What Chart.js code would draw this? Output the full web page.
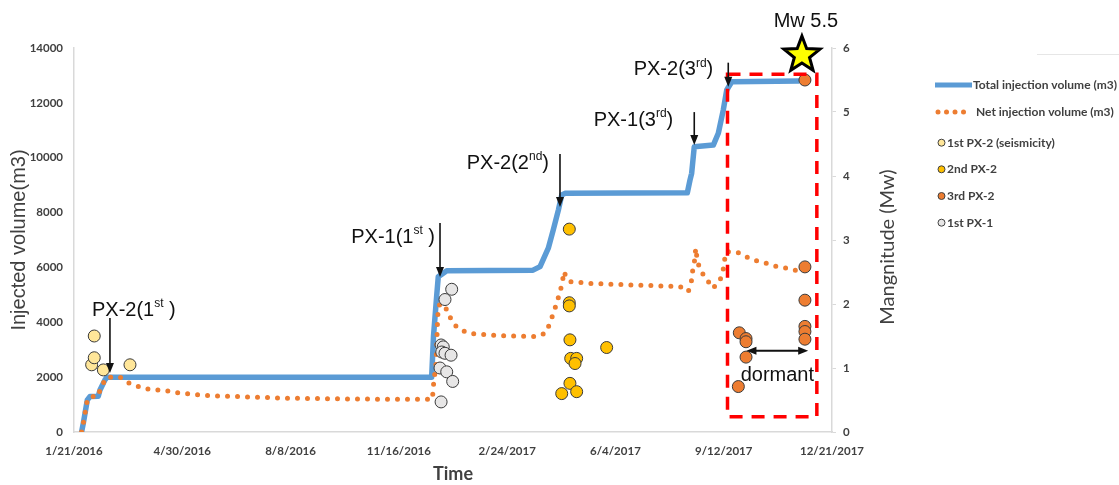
<!DOCTYPE html>
<html>
<head>
<meta charset="utf-8">
<script src="https://cdn.jsdelivr.net/npm/chart.js@4.4.0/dist/chart.umd.min.js"></script>
<style>
  html, body { margin: 0; padding: 0; background: #fff; }
  #wrap { position: relative; width: 1119px; height: 485px; }
  canvas { position: absolute; left: 0; top: 0; }
</style>
</head>
<body>
<div id="wrap"><canvas id="c" width="1119" height="485"></canvas></div>
<script>
// Time is counted in days from 1/21/2016; axis ticks every 100 days.
const tickLabels = ['1/21/2016', '4/30/2016', '8/8/2016', '11/16/2016', '2/24/2017', '6/4/2017', '9/12/2017', '12/21/2017'];

// Cumulative total injection volume (m3)
const totalDays = [7, 8.6, 10.2, 12.3, 14.8, 22.4, 24, 28.6, 30.5, 330.3, 332, 335, 336.4, 344.2, 423.9, 430.4, 438, 442.6, 447.3, 450.4, 453.4, 566.4, 568.9, 570.4, 572.8, 590.4, 595, 599.6, 602.8, 607.4, 669.8];
const totalVolume = [0, 320, 680, 1170, 1290, 1300, 1530, 1900, 2000, 2000, 3500, 5000, 5660, 5880, 5900, 6030, 6700, 7370, 8090, 8640, 8700, 8720, 9190, 9430, 10400, 10460, 10890, 11740, 12470, 12770, 12800];

// Net injection volume (m3): injected minus flowback
const netDays = [7, 8.6, 10.2, 12.3, 14.8, 22.4, 24, 28.6, 30.5, 42.5, 50.1, 57.9, 68.6, 77.6, 86.8, 96, 116, 133, 153, 181, 200, 240, 282, 331, 331.8, 334.3, 335, 335.5, 336.4, 339.6, 345.7, 348.8, 354.9, 364.1, 382.6, 401.1, 427.3, 435, 439.6, 442.6, 445.8, 448.8, 451.3, 451.9, 458, 476.5, 513.5, 540, 559.6, 567.3, 570.4, 571.4, 573.5, 574.1, 575.6, 578.1, 584.3, 589.8, 595.9, 599.1, 600.3, 602.1, 608.3, 615, 623.6, 632.6, 641.2, 650.4, 659.7, 668];
const netVolume = [0, 320, 680, 1170, 1290, 1300, 1530, 1900, 2000, 2000, 1800, 1680, 1560, 1530, 1495, 1430, 1350, 1310, 1290, 1250, 1230, 1210, 1195, 1190, 1650, 2500, 3230, 3840, 4590, 4690, 4390, 4020, 3780, 3600, 3540, 3500, 3480, 3600, 3960, 4330, 4690, 5120, 5480, 5850, 5480, 5420, 5360, 5330, 5300, 5120, 5540, 5910, 6330, 6700, 6270, 5910, 5570, 5240, 5480, 5790, 6150, 6570, 6570, 6520, 6330, 6210, 6130, 6010, 5970, 5880];

// Seismic events (Mw) by stimulation phase
const px2FirstDays = [16.3, 18.7, 18.7, 27.1, 51.7];
const px2FirstMw = [1.05, 1.5, 1.16, 0.97, 1.05];

const px2SecondDays = [457.4, 457.4, 457.4, 458, 491.9, 458.7, 464.2, 462.7, 458, 464.2, 450.4];
const px2SecondMw = [3.17, 2.02, 1.97, 1.44, 1.32, 1.15, 1.15, 1.07, 0.76, 0.63, 0.6];

const px2ThirdDays = [614.4, 620.6, 620.6, 620.6, 613.5, 675, 675, 675, 675, 675, 675];
const px2ThirdMw = [1.55, 1.46, 1.41, 1.17, 0.71, 2.58, 2.06, 1.65, 1.57, 1.45, 5.5];

const px1FirstDays = [348.8, 342.6, 339, 341, 339.6, 342.6, 348.2, 338, 344.2, 349.7, 339];
const px1FirstMw = [2.23, 2.07, 1.36, 1.33, 1.25, 1.23, 1.2, 1.0, 0.94, 0.79, 0.47];

// Dormant period after the 3rd PX-2 stimulation and the Mw 5.5 mainshock
const dormantDays = [621, 678];
const dormantMw = 1.27;
const boxDays = [603.5, 686];
const boxMw = [0.24, 5.59];
const mainshockMw = 5.5;

const BLUE = '#5B9BD5', ORANGE = '#ED7D31';
const pts = (xs, ys) => xs.map((d, i) => ({ x: d, y: ys[i] }));

// Stimulation phase call-outs: arrow tip in data units, text placed next to the arrow
const phaseNotes = [
  { parts: [['PX-2(1', 0], ['st', 1], [' )', 0]], day: 33.2, vol: 2150, len: 55, dx: -18, dy: -8, align: 'left' },
  { parts: [['PX-1(1', 0], ['st', 1], [' )', 0]], day: 338, vol: 5650, len: 54, dx: -5, dy: 14, align: 'right' },
  { parts: [['PX-2(2', 0], ['nd', 1], [')', 0]], day: 448.8, vol: 8200, len: 53, dx: -11, dy: 9, align: 'right' },
  { parts: [['PX-1(3', 0], ['rd', 1], [')', 0]], day: 572.8, vol: 10460, len: 33, dx: -21, dy: 8, align: 'right' },
  { parts: [['PX-2(3', 0], ['rd', 1], [')', 0]], day: 604.2, vol: 12590, len: 24, dx: -15, dy: 7, align: 'right' }
];

const SANS = '"Liberation Sans", Arial, sans-serif';
const CAL = 'Lato, "Liberation Sans", sans-serif';

function drawParts(ctx, parts, x, y, align) {
  const mainFont = '20px ' + SANS, supFont = '12px ' + SANS;
  let w = 0;
  parts.forEach(([t, s]) => { ctx.font = s ? supFont : mainFont; w += ctx.measureText(t).width; });
  let cx = align === 'right' ? x - w : x;
  ctx.textAlign = 'left';
  ctx.textBaseline = 'middle';
  parts.forEach(([t, s]) => {
    ctx.font = s ? supFont : mainFont;
    ctx.fillText(t, cx, s ? y - 6 : y);
    cx += ctx.measureText(t).width;
  });
}

function arrowHead(ctx, x, y, dir) {
  // dir: 'down' | 'left' | 'right'
  ctx.beginPath();
  if (dir === 'down') { ctx.moveTo(x, y); ctx.lineTo(x - 4, y - 10); ctx.lineTo(x + 4, y - 10); }
  if (dir === 'left') { ctx.moveTo(x, y); ctx.lineTo(x + 10, y - 4); ctx.lineTo(x + 10, y + 4); }
  if (dir === 'right') { ctx.moveTo(x, y); ctx.lineTo(x - 10, y - 4); ctx.lineTo(x - 10, y + 4); }
  ctx.closePath();
  ctx.fill();
}

function star(ctx, cx, cy, R, r) {
  ctx.beginPath();
  for (let i = 0; i < 10; i++) {
    const rad = i % 2 === 0 ? R : r;
    const a = -Math.PI / 2 + i * Math.PI / 5;
    const px = cx + rad * Math.cos(a), py = cy + rad * Math.sin(a);
    if (i === 0) ctx.moveTo(px, py); else ctx.lineTo(px, py);
  }
  ctx.closePath();
}

const overlay = {
  id: 'overlay',
  afterDatasetsDraw(chart) {
    const { ctx } = chart;
    const x = chart.scales.x, y = chart.scales.y, y2 = chart.scales.y2;
    ctx.save();

    // dashed frame around the post-stimulation period
    ctx.strokeStyle = '#FF0000';
    ctx.lineWidth = 3.5;
    ctx.setLineDash([13, 9]);
    const bx0 = x.getPixelForValue(boxDays[0]), bx1 = x.getPixelForValue(boxDays[1]);
    const by0 = y2.getPixelForValue(boxMw[1]), by1 = y2.getPixelForValue(boxMw[0]);
    ctx.strokeRect(bx0, by0, bx1 - bx0, by1 - by0);
    ctx.setLineDash([]);

    // phase call-outs
    ctx.fillStyle = '#111';
    ctx.strokeStyle = '#111';
    ctx.lineWidth = 1.6;
    phaseNotes.forEach(n => {
      const ax = x.getPixelForValue(n.day), tip = y.getPixelForValue(n.vol), top = tip - n.len;
      ctx.beginPath(); ctx.moveTo(ax, top); ctx.lineTo(ax, tip - 8); ctx.stroke();
      arrowHead(ctx, ax, tip, 'down');
      drawParts(ctx, n.parts, ax + n.dx, top + n.dy, n.align);
    });

    // dormant double arrow
    const dx0 = x.getPixelForValue(dormantDays[0]), dx1 = x.getPixelForValue(dormantDays[1]);
    const dy = y2.getPixelForValue(dormantMw);
    ctx.lineWidth = 2;
    ctx.beginPath(); ctx.moveTo(dx0 + 8, dy); ctx.lineTo(dx1 - 8, dy); ctx.stroke();
    arrowHead(ctx, dx0, dy, 'left');
    arrowHead(ctx, dx1, dy, 'right');
    ctx.font = '20px ' + SANS;
    ctx.textAlign = 'center'; ctx.textBaseline = 'middle';
    ctx.fillText('dormant', (dx0 + dx1) / 2, dy + 25);

    // mainshock star
    const mi = px2ThirdMw.indexOf(mainshockMw);
    const mx = x.getPixelForValue(px2ThirdDays[mi]), my = y2.getPixelForValue(mainshockMw);
    star(ctx, mx - 3, my - 25, 19, 8);
    ctx.fillStyle = '#FFFF00'; ctx.fill();
    ctx.lineWidth = 3; ctx.strokeStyle = '#000'; ctx.lineJoin = 'miter'; ctx.stroke();
    ctx.fillStyle = '#111';
    ctx.font = '20px ' + SANS;
    ctx.fillText('Mw ' + mainshockMw, mx + 1, my - 59);

    ctx.restore();
  },
  afterDraw(chart) {
    const { ctx } = chart;
    ctx.save();
    // right axis title, reading bottom to top
    ctx.translate(888, 247);
    ctx.rotate(-Math.PI / 2);
    ctx.fillStyle = '#404040';
    ctx.font = '20px ' + CAL;
    ctx.textAlign = 'center'; ctx.textBaseline = 'middle';
    ctx.fillText('Mangnitude (Mw)', 0, 0);
    ctx.restore();

    // legend
    ctx.save();
    ctx.font = 'bold 12px ' + CAL;
    ctx.textAlign = 'left'; ctx.textBaseline = 'middle';
    ctx.fillStyle = '#404040';
    ctx.strokeStyle = BLUE; ctx.lineWidth = 5;
    ctx.beginPath(); ctx.moveTo(935, 85); ctx.lineTo(972, 85); ctx.stroke();
    ctx.fillText('Total injection volume (m3)', 973, 85);
    ctx.fillStyle = ORANGE;
    [938, 946.5, 955, 963.5].forEach(px => { ctx.beginPath(); ctx.arc(px, 112, 2.5, 0, Math.PI * 2); ctx.fill(); });
    ctx.fillStyle = '#404040';
    ctx.fillText('Net injection volume (m3)', 976, 112);
    const items = [['1st PX-2 (seismicity)', '#FFE699', 142.7], ['2nd PX-2', '#FFC000', 169.3], ['3rd PX-2', ORANGE, 196], ['1st PX-1', '#E7E6E6', 222.7]];
    items.forEach(([t, c, py]) => {
      ctx.beginPath(); ctx.arc(941.5, py, 3.5, 0, Math.PI * 2);
      ctx.fillStyle = c; ctx.fill();
      ctx.lineWidth = 1; ctx.strokeStyle = '#404040'; ctx.stroke();
      ctx.fillStyle = '#404040';
      ctx.fillText(t, 947, py);
    });
    ctx.strokeStyle = '#e6e6e6'; ctx.lineWidth = 1;
    ctx.beginPath(); ctx.moveTo(1037, 54.5); ctx.lineTo(1119, 54.5); ctx.stroke();
    ctx.restore();
  }
};

const scatterSet = (label, xs, ys, color) => ({
  label, data: pts(xs, ys), yAxisID: 'y2', showLine: false, order: 0,
  pointRadius: 6, pointBackgroundColor: color, pointBorderColor: '#3a3a3a', pointBorderWidth: 1
});

const tickFont = { family: CAL, weight: 'bold', size: 11.5 };

new Chart(document.getElementById('c'), {
  type: 'scatter',
  data: {
    datasets: [
      scatterSet('1st PX-2 (seismicity)', px2FirstDays, px2FirstMw, '#FFE699'),
      scatterSet('2nd PX-2', px2SecondDays, px2SecondMw, '#FFC000'),
      scatterSet('3rd PX-2', px2ThirdDays, px2ThirdMw, ORANGE),
      scatterSet('1st PX-1', px1FirstDays, px1FirstMw, '#E7E6E6'),
      {
        label: 'Net injection volume (m3)', data: pts(netDays, netVolume), yAxisID: 'y',
        showLine: true, pointRadius: 0, borderColor: ORANGE, borderWidth: 5,
        borderDash: [0, 10], borderCapStyle: 'round', order: 1
      },
      {
        label: 'Total injection volume (m3)', data: pts(totalDays, totalVolume), yAxisID: 'y',
        showLine: true, pointRadius: 0, borderColor: BLUE, borderWidth: 5.5,
        borderJoinStyle: 'round', order: 2
      }
    ]
  },
  options: {
    responsive: false,
    animation: false,
    events: [],
    layout: { padding: { left: 0, top: 48, right: 227, bottom: 0 } },
    plugins: { legend: { display: false }, tooltip: { enabled: false } },
    scales: {
      x: {
        type: 'linear', min: 0, max: 700,
        ticks: {
          stepSize: 100, autoSkip: false, maxRotation: 0, padding: 12,
          font: tickFont, color: '#404040',
          callback: v => tickLabels[Math.round(v / 100)]
        },
        grid: { display: false, drawTicks: false },
        border: { color: '#d9d9d9', width: 1.5 },
        title: { display: true, text: 'Time', color: '#404040', font: { family: CAL, size: 18, weight: 'bold' }, padding: { top: 2, bottom: 0 } },
        afterFit: s => { s.height = 53; }
      },
      y: {
        position: 'left', min: 0, max: 14000,
        ticks: { stepSize: 2000, padding: 11, font: tickFont, color: '#404040', callback: v => String(v) },
        grid: { display: false, drawTicks: false },
        border: { color: '#d9d9d9', width: 1.5 },
        title: { display: true, text: 'Injected volume(m3)', color: '#404040', font: { family: SANS, size: 20 }, padding: { top: 7, bottom: 0 } },
        afterFit: s => { s.width = 74; }
      },
      y2: {
        position: 'right', min: 0, max: 6,
        ticks: { stepSize: 1, padding: 7, font: tickFont, color: '#404040', callback: v => String(v) },
        grid: { display: true, drawOnChartArea: false, drawTicks: true, tickLength: 4, color: '#d9d9d9' },
        border: { color: '#d9d9d9', width: 1.5 },
        afterFit: s => { s.width = 60; }
      }
    }
  },
  plugins: [overlay]
});
</script>
</body>
</html>
